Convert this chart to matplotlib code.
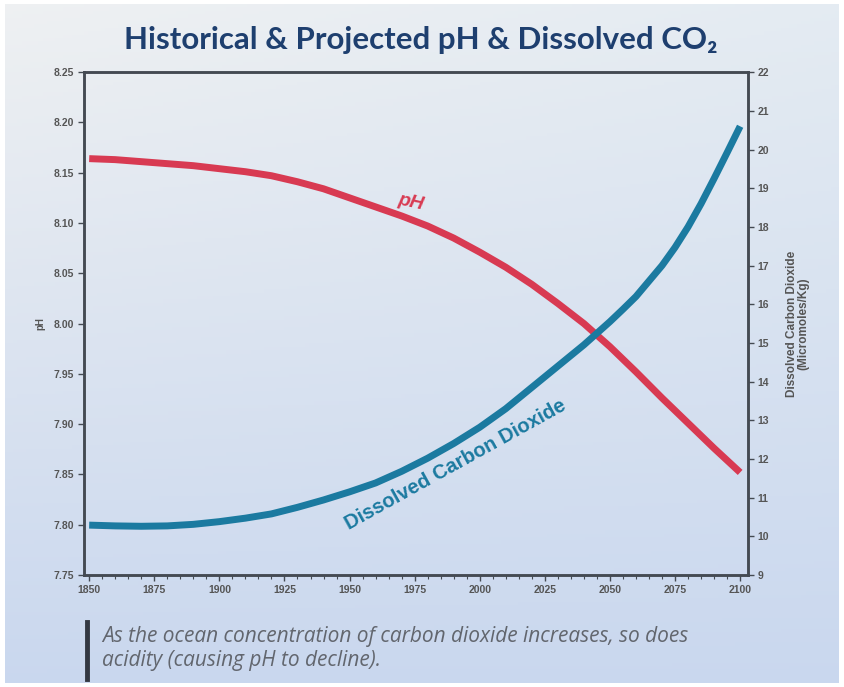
import matplotlib
matplotlib.use("Agg")
import matplotlib.pyplot as plt
import numpy as np

######### Data #########
ph_years = [1850, 1860, 1870, 1880, 1890, 1900, 1910, 1920, 1930, 1940, 1950, 1960, 1970,
            1980, 1990, 2000, 2010, 2020, 2030, 2040, 2050, 2060, 2070, 2080, 2090, 2100]
ph = [8.164, 8.163, 8.161, 8.159, 8.157, 8.154, 8.151, 8.147, 8.141, 8.134, 8.125, 8.116, 8.107,
      8.097, 8.085, 8.071, 8.056, 8.039, 8.020, 8.000, 7.977, 7.952, 7.926, 7.901, 7.876, 7.852]
co2_years = [1850, 1860, 1870, 1880, 1890, 1900, 1910, 1920, 1930, 1940, 1950, 1960, 1970,
             1980, 1990, 2000, 2010, 2020, 2030, 2040, 2045, 2050, 2055, 2060, 2065, 2070,
             2075, 2080, 2085, 2090, 2095, 2100]
co2 = [10.29, 10.27, 10.26, 10.27, 10.31, 10.38, 10.47, 10.58, 10.75, 10.94, 11.15, 11.38, 11.68,
       12.02, 12.40, 12.82, 13.30, 13.85, 14.40, 14.95, 15.25, 15.55, 15.87, 16.20, 16.60, 17.00,
       17.47, 18.00, 18.60, 19.25, 19.92, 20.60]
x_ticks = [1850, 1875, 1900, 1925, 1950, 1975, 2000, 2025, 2050, 2075, 2100]
ph_ticks = [7.75, 7.80, 7.85, 7.90, 7.95, 8.00, 8.05, 8.10, 8.15, 8.20, 8.25]
co2_ticks = list(range(9, 23))
########################

red = "#d83a52"
blue = "#1b7aa0"
axis_col = "#444a52"
tick_font = dict(family="Liberation Sans", weight="bold", size=7.5)

fig = plt.figure(figsize=(8.44, 6.87), dpi=100)

# background gradient
bg = fig.add_axes([0.006, 0.006, 0.988, 0.988], zorder=-10)
top = np.array([0.935, 0.943, 0.950])
bottom = np.array([0.790, 0.845, 0.935])
right_tint = np.array([-0.04, -0.02, 0.0])
v = np.linspace(0, 1, 200)[:, None, None]
h = np.linspace(0, 1, 200)[None, :, None]
grad = top * (1 - v) + bottom * v + right_tint * h * (1 - v)
bg.imshow(np.clip(grad, 0, 1), aspect="auto", extent=[0, 1, 0, 1])
bg.axis("off")

ax = fig.add_axes([0.0995, 0.163, 0.7867, 0.732])
ax.set_facecolor("none")
ax2 = ax.twinx()

ax.plot(ph_years, ph, color=red, lw=5, solid_capstyle="butt", solid_joinstyle="round", zorder=3)
ax2.plot(co2_years, co2, color=blue, lw=5, solid_capstyle="butt", solid_joinstyle="round", zorder=3)

ax.set_xlim(1848, 2103)
ax.set_ylim(7.75, 8.25)
ax2.set_ylim(9, 22)

ax.set_xticks(x_ticks)
ax.set_xticks(range(1850, 2101, 5), minor=True)
ax.set_yticks(ph_ticks)
ax.set_yticklabels(["%.2f" % t for t in ph_ticks], **tick_font, color="#555")
ax.set_xticklabels([str(t) for t in x_ticks], **tick_font, color="#555")
ax2.set_yticks(co2_ticks)
ax2.set_yticklabels([str(t) for t in co2_ticks], **tick_font, color="#555")

for a in (ax, ax2):
    for s in a.spines.values():
        s.set_color(axis_col)
        s.set_linewidth(1.8)
ax.tick_params(axis="both", which="major", length=4, width=1, color=axis_col, pad=3)
ax.tick_params(axis="x", which="minor", length=3, width=0.8, color=axis_col)
ax2.tick_params(axis="y", length=4, width=1, color=axis_col, pad=3)

ax.set_ylabel("pH", fontsize=7, fontweight="bold", color="#555", labelpad=6, family="Liberation Sans")
ax2.set_ylabel("Dissolved Carbon Dioxide\n(Micromoles/Kg)", fontsize=8.5, fontweight="bold",
               color="#555", labelpad=12, family="Liberation Sans", linespacing=0.95)

# curve labels
ax.text(1973.5, 8.120, "pH", color=red, fontsize=14, fontweight="bold", style="italic",
        rotation=-12, ha="center", va="center", family="Liberation Sans")
ax2.text(1990.5, 11.84, "Dissolved Carbon Dioxide", color=blue, fontsize=14.5, fontweight="bold",
         rotation=29, ha="center", va="center", family="Liberation Sans")

# title
fig.text(0.499, 0.942, "Historical & Projected pH & Dissolved CO\u2082", ha="center", va="center",
         fontsize=22.5, fontweight="bold", color="#1e3f6f", family=["Lato", "DejaVu Sans"])

# caption with bar
fig.add_artist(plt.Line2D([0.103, 0.103], [0.012, 0.095], color="#333842", lw=3.5,
                          transform=fig.transFigure))
fig.text(0.121, 0.074, "As the ocean concentration of carbon dioxide increases, so does",
         fontsize=15, style="italic", color="#62666e", va="center", family="Open Sans")
fig.text(0.121, 0.038, "acidity (causing pH to decline).",
         fontsize=15, style="italic", color="#62666e", va="center", family="Open Sans")

fig.savefig("out.png", dpi=100)
